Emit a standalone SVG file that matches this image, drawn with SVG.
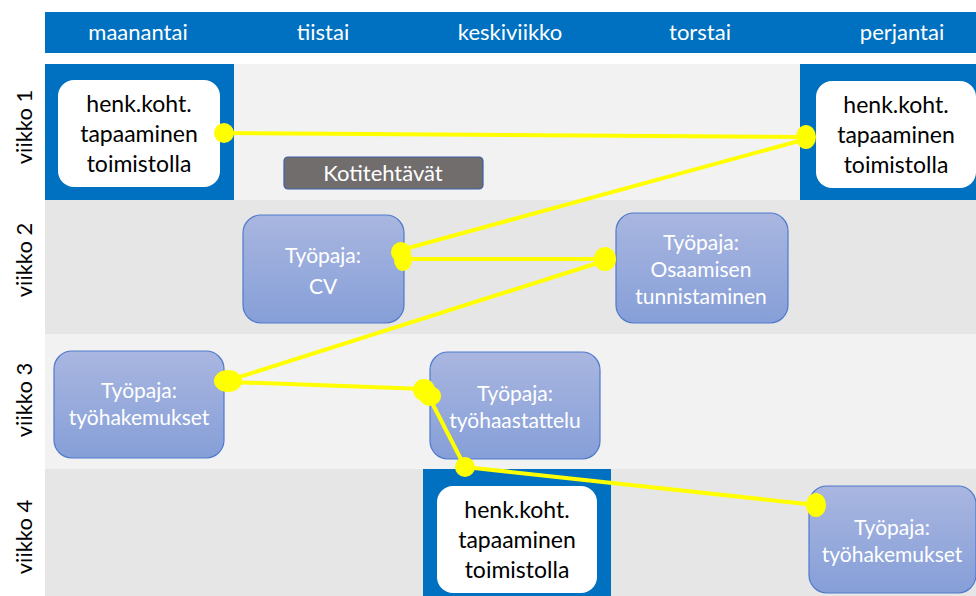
<svg xmlns="http://www.w3.org/2000/svg" width="976" height="596" viewBox="0 0 976 596">
  <defs>
    <linearGradient id="ws" x1="0" y1="0" x2="0" y2="1">
      <stop offset="0" stop-color="#A9B6E0"/>
      <stop offset="1" stop-color="#869FD8"/>
    </linearGradient>
  </defs>
  <style>
    text { font-family: Lato, "Open Sans", "Liberation Sans", sans-serif; text-anchor: middle; }
    .day { fill: #ffffff; font-size: 22px; }
    .week { fill: #000000; font-size: 22px; }
    .meet rect { fill: #ffffff; }
    .meet text { fill: #000000; font-size: 23px; }
    .ws rect { fill: url(#ws); stroke: #4F7ACB; stroke-width: 1.2; }
    .ws text { fill: #ffffff; font-size: 21px; }
    .link { stroke: #FFFF00; stroke-width: 4; fill: none; stroke-linecap: round; }
    .dot { fill: #FFFF00; }
  </style>

  <!-- background -->
  <rect x="0" y="0" width="976" height="596" fill="#ffffff"/>

  <!-- weekday header -->
  <g id="header">
    <rect x="45" y="12" width="931" height="41" fill="#0070C0"/>
    <text class="day" x="138" y="40">maanantai</text>
    <text class="day" x="323" y="40">tiistai</text>
    <text class="day" x="510" y="40">keskiviikko</text>
    <text class="day" x="700" y="40">torstai</text>
    <text class="day" x="902" y="40">perjantai</text>
  </g>

  <!-- week rows -->
  <g id="rows">
    <rect x="45" y="64" width="931" height="136" fill="#F2F2F2"/>
    <rect x="45" y="200" width="931" height="134" fill="#E6E6E6"/>
    <rect x="45" y="334" width="931" height="135" fill="#F2F2F2"/>
    <rect x="45" y="469" width="931" height="127" fill="#E6E6E6"/>
    <!-- office-day highlights -->
    <rect x="45" y="64" width="189" height="136" fill="#0070C0"/>
    <rect x="800" y="64" width="176" height="136" fill="#0070C0"/>
    <rect x="423" y="469" width="188" height="127" fill="#0070C0"/>
  </g>

  <g id="week-labels">
    <text class="week" transform="translate(32,127) rotate(-90)">viikko 1</text>
    <text class="week" transform="translate(32,260) rotate(-90)">viikko 2</text>
    <text class="week" transform="translate(32,400) rotate(-90)">viikko 3</text>
    <text class="week" transform="translate(32,537) rotate(-90)">viikko 4</text>
  </g>

  <!-- nodes -->
  <g id="meet-w1-mon" class="meet">
    <rect x="58" y="80" width="162" height="107" rx="16"/>
    <text x="139" y="112">henk.koht.</text>
    <text x="139" y="142">tapaaminen</text>
    <text x="139" y="172">toimistolla</text>
  </g>

  <g id="meet-w1-fri" class="meet">
    <rect x="816" y="81" width="160" height="107" rx="16"/>
    <text x="896" y="113">henk.koht.</text>
    <text x="896" y="143">tapaaminen</text>
    <text x="896" y="173">toimistolla</text>
  </g>

  <g id="homework">
    <rect x="284" y="157" width="199" height="32" rx="4" fill="#716D6D" stroke="#3B5FA8" stroke-width="1.2"/>
    <text x="383" y="181" fill="#ffffff" font-size="22">Kotitehtävät</text>
  </g>

  <g id="ws-cv" class="ws">
    <rect x="243" y="215" width="161" height="108" rx="18"/>
    <text x="323" y="263" font-size="23">Työpaja:</text>
    <text x="323" y="294" font-size="23">CV</text>
  </g>

  <g id="ws-skills" class="ws">
    <rect x="616" y="213" width="172" height="110" rx="18"/>
    <text x="701" y="250" font-size="22">Työpaja:</text>
    <text x="701" y="277" font-size="19">Osaamisen</text>
    <text x="701" y="304" font-size="19">tunnistaminen</text>
  </g>

  <g id="ws-applications-w3" class="ws">
    <rect x="54" y="351" width="170" height="107" rx="18"/>
    <text x="139" y="398">Työpaja:</text>
    <text x="139" y="425">työhakemukset</text>
  </g>

  <g id="ws-interview" class="ws">
    <rect x="430" y="352" width="170" height="107" rx="18"/>
    <text x="515" y="401">Työpaja:</text>
    <text x="515" y="428">työhaastattelu</text>
  </g>

  <g id="meet-w4-wed" class="meet">
    <rect x="437" y="486" width="160" height="107" rx="16"/>
    <text x="517" y="518">henk.koht.</text>
    <text x="517" y="548">tapaaminen</text>
    <text x="517" y="578">toimistolla</text>
  </g>

  <g id="ws-applications-w4" class="ws">
    <rect x="809" y="486" width="167" height="107" rx="18"/>
    <text x="892" y="535">Työpaja:</text>
    <text x="892" y="562">työhakemukset</text>
  </g>

  <!-- connectors -->
  <g id="connectors">
    <line class="link" x1="224" y1="133" x2="806" y2="137"/>
    <line class="link" x1="806" y1="139" x2="401" y2="250"/>
    <line class="link" x1="401" y1="259" x2="604" y2="259"/>
    <line class="link" x1="604" y1="261" x2="230" y2="380"/>
    <line class="link" x1="230" y1="382" x2="425" y2="389"/>
    <line class="link" x1="427" y1="393" x2="465" y2="467"/>
    <line class="link" x1="465" y1="467" x2="816" y2="505"/>

    <circle class="dot" cx="224" cy="133" r="10"/>
    <ellipse class="dot" cx="806" cy="137" rx="10" ry="12"/>
    <ellipse class="dot" cx="401" cy="252" rx="10" ry="10"/>
    <ellipse class="dot" cx="403" cy="260" rx="9" ry="11"/>
    <ellipse class="dot" cx="605" cy="259" rx="11" ry="12"/>
    <ellipse class="dot" cx="228" cy="381" rx="14" ry="11"/>
    <ellipse class="dot" cx="424" cy="390" rx="11" ry="11"/>
    <ellipse class="dot" cx="430" cy="396" rx="11" ry="10"/>
    <circle class="dot" cx="465" cy="467" r="10"/>
    <ellipse class="dot" cx="816" cy="505" rx="10" ry="12"/>
  </g>
</svg>
